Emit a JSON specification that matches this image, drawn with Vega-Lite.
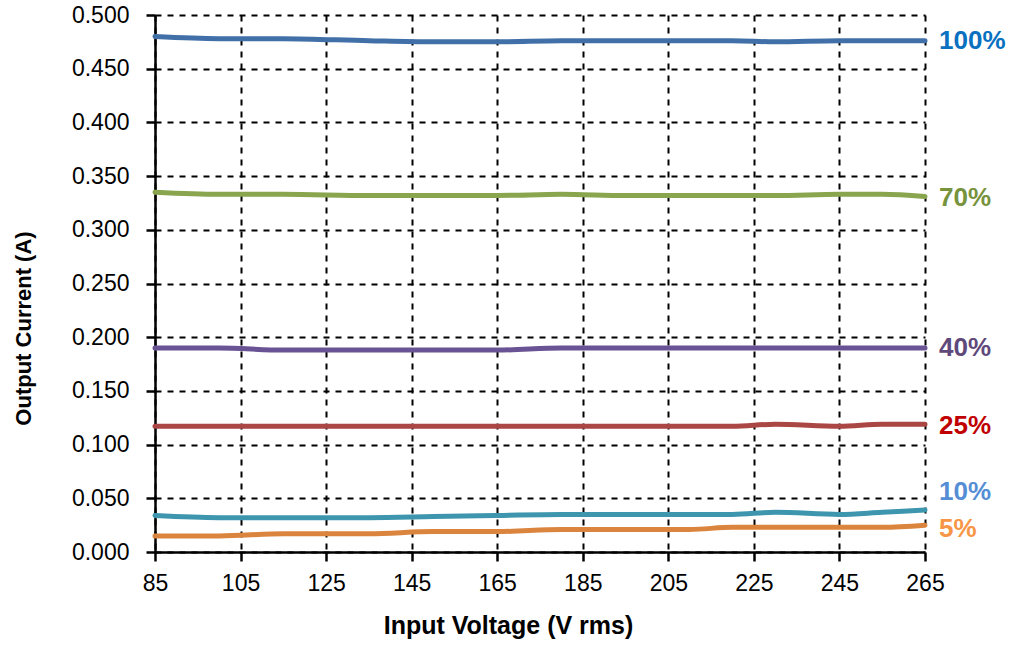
{
  "$schema": "https://vega.github.io/schema/vega-lite/v6.json",
  "autosize": "none",
  "width": 770,
  "height": 537,
  "padding": {"left": 155, "top": 15, "right": 88, "bottom": 93},
  "background": "white",
  "config": {
    "view": {"stroke": null},
    "font": "Liberation Sans",
    "axis": {
      "labelFont": "Liberation Sans",
      "titleFont": "Liberation Sans",
      "labelFontSize": 23,
      "labelColor": "black",
      "titleFontWeight": "bold",
      "titleColor": "black",
      "domainColor": "black",
      "domainWidth": 2.5,
      "tickColor": "black",
      "tickWidth": 2.5,
      "tickSize": 9,
      "gridColor": "black",
      "gridWidth": 2,
      "gridDash": [6, 6],
      "gridOpacity": 1,
      "labelFlush": false
    }
  },
  "datasets": {
    "lines": [
      {"series": "100%", "v": 85, "i": 0.480}, {"series": "100%", "v": 100, "i": 0.478}, {"series": "100%", "v": 115, "i": 0.478}, {"series": "100%", "v": 135, "i": 0.476}, {"series": "100%", "v": 150, "i": 0.475}, {"series": "100%", "v": 165, "i": 0.475}, {"series": "100%", "v": 180, "i": 0.476}, {"series": "100%", "v": 195, "i": 0.476}, {"series": "100%", "v": 220, "i": 0.476}, {"series": "100%", "v": 230, "i": 0.475}, {"series": "100%", "v": 245, "i": 0.476}, {"series": "100%", "v": 255, "i": 0.476}, {"series": "100%", "v": 265, "i": 0.476},
      {"series": "70%", "v": 85, "i": 0.335}, {"series": "70%", "v": 100, "i": 0.333}, {"series": "70%", "v": 115, "i": 0.333}, {"series": "70%", "v": 135, "i": 0.332}, {"series": "70%", "v": 150, "i": 0.332}, {"series": "70%", "v": 165, "i": 0.332}, {"series": "70%", "v": 180, "i": 0.333}, {"series": "70%", "v": 195, "i": 0.332}, {"series": "70%", "v": 220, "i": 0.332}, {"series": "70%", "v": 230, "i": 0.332}, {"series": "70%", "v": 245, "i": 0.333}, {"series": "70%", "v": 255, "i": 0.333}, {"series": "70%", "v": 265, "i": 0.331},
      {"series": "40%", "v": 85, "i": 0.190}, {"series": "40%", "v": 100, "i": 0.190}, {"series": "40%", "v": 115, "i": 0.188}, {"series": "40%", "v": 135, "i": 0.188}, {"series": "40%", "v": 150, "i": 0.188}, {"series": "40%", "v": 165, "i": 0.188}, {"series": "40%", "v": 180, "i": 0.190}, {"series": "40%", "v": 195, "i": 0.190}, {"series": "40%", "v": 220, "i": 0.190}, {"series": "40%", "v": 230, "i": 0.190}, {"series": "40%", "v": 245, "i": 0.190}, {"series": "40%", "v": 255, "i": 0.190}, {"series": "40%", "v": 265, "i": 0.190},
      {"series": "25%", "v": 85, "i": 0.117}, {"series": "25%", "v": 100, "i": 0.117}, {"series": "25%", "v": 115, "i": 0.117}, {"series": "25%", "v": 135, "i": 0.117}, {"series": "25%", "v": 150, "i": 0.117}, {"series": "25%", "v": 165, "i": 0.117}, {"series": "25%", "v": 180, "i": 0.117}, {"series": "25%", "v": 195, "i": 0.117}, {"series": "25%", "v": 220, "i": 0.117}, {"series": "25%", "v": 230, "i": 0.119}, {"series": "25%", "v": 245, "i": 0.117}, {"series": "25%", "v": 255, "i": 0.119}, {"series": "25%", "v": 265, "i": 0.119},
      {"series": "10%", "v": 85, "i": 0.034}, {"series": "10%", "v": 100, "i": 0.032}, {"series": "10%", "v": 115, "i": 0.032}, {"series": "10%", "v": 135, "i": 0.032}, {"series": "10%", "v": 150, "i": 0.033}, {"series": "10%", "v": 165, "i": 0.034}, {"series": "10%", "v": 180, "i": 0.035}, {"series": "10%", "v": 195, "i": 0.035}, {"series": "10%", "v": 220, "i": 0.035}, {"series": "10%", "v": 230, "i": 0.037}, {"series": "10%", "v": 245, "i": 0.035}, {"series": "10%", "v": 255, "i": 0.037}, {"series": "10%", "v": 265, "i": 0.039},
      {"series": "5%", "v": 85, "i": 0.015}, {"series": "5%", "v": 100, "i": 0.015}, {"series": "5%", "v": 115, "i": 0.017}, {"series": "5%", "v": 135, "i": 0.017}, {"series": "5%", "v": 150, "i": 0.019}, {"series": "5%", "v": 165, "i": 0.019}, {"series": "5%", "v": 180, "i": 0.021}, {"series": "5%", "v": 195, "i": 0.021}, {"series": "5%", "v": 210, "i": 0.021}, {"series": "5%", "v": 220, "i": 0.023}, {"series": "5%", "v": 245, "i": 0.023}, {"series": "5%", "v": 255, "i": 0.023}, {"series": "5%", "v": 265, "i": 0.025}
    ],
    "labels": [
      {"series": "100%", "v": 265, "i": 0.476},
      {"series": "70%", "v": 265, "i": 0.330},
      {"series": "40%", "v": 265, "i": 0.190},
      {"series": "25%", "v": 265, "i": 0.117},
      {"series": "10%", "v": 265, "i": 0.056},
      {"series": "5%", "v": 265, "i": 0.021}
    ]
  },
  "layer": [
    {
      "data": {"name": "lines"},
      "mark": {"type": "line", "strokeWidth": 5, "interpolate": "monotone", "strokeCap": "round", "clip": false},
      "encoding": {
        "x": {
          "field": "v", "type": "quantitative",
          "scale": {"domain": [85, 265], "nice": false, "zero": false},
          "axis": {
            "title": "Input Voltage (V rms)",
            "titleFontSize": 25,
            "titleX": 353,
            "values": [85, 105, 125, 145, 165, 185, 205, 225, 245, 265],
            "labelPadding": 11,
            "titlePadding": 18,
            "grid": true
          }
        },
        "y": {
          "field": "i", "type": "quantitative",
          "scale": {"domain": [0, 0.5], "nice": false},
          "axis": {
            "title": "Output Current (A)",
            "titleFontSize": 22,
            "titleY": 313,
            "values": [0, 0.05, 0.1, 0.15, 0.2, 0.25, 0.3, 0.35, 0.4, 0.45, 0.5],
            "format": ".3f",
            "labelPadding": 17,
            "titlePadding": 36,
            "grid": true
          }
        },
        "color": {
          "field": "series", "type": "nominal",
          "scale": {"domain": ["100%", "70%", "40%", "25%", "10%", "5%"], "range": ["#4170A9", "#89A54E", "#6A5394", "#AA4643", "#3D96AE", "#DB843D"]},
          "legend": null
        },
        "detail": {"field": "series"}
      }
    },
    {
      "data": {"name": "labels"},
      "mark": {"type": "text", "align": "left", "baseline": "middle", "dx": 14, "fontSize": 26, "fontWeight": "bold", "font": "Liberation Sans", "clip": false},
      "encoding": {
        "x": {"field": "v", "type": "quantitative"},
        "y": {"field": "i", "type": "quantitative"},
        "text": {"field": "series"},
        "color": {
          "field": "series", "type": "nominal",
          "scale": {"domain": ["100%", "70%", "40%", "25%", "10%", "5%"], "range": ["#0A70C0", "#77933C", "#5F497A", "#C00000", "#558ED5", "#F79646"]},
          "legend": null
        }
      }
    }
  ],
  "resolve": {"scale": {"color": "independent"}}
}
